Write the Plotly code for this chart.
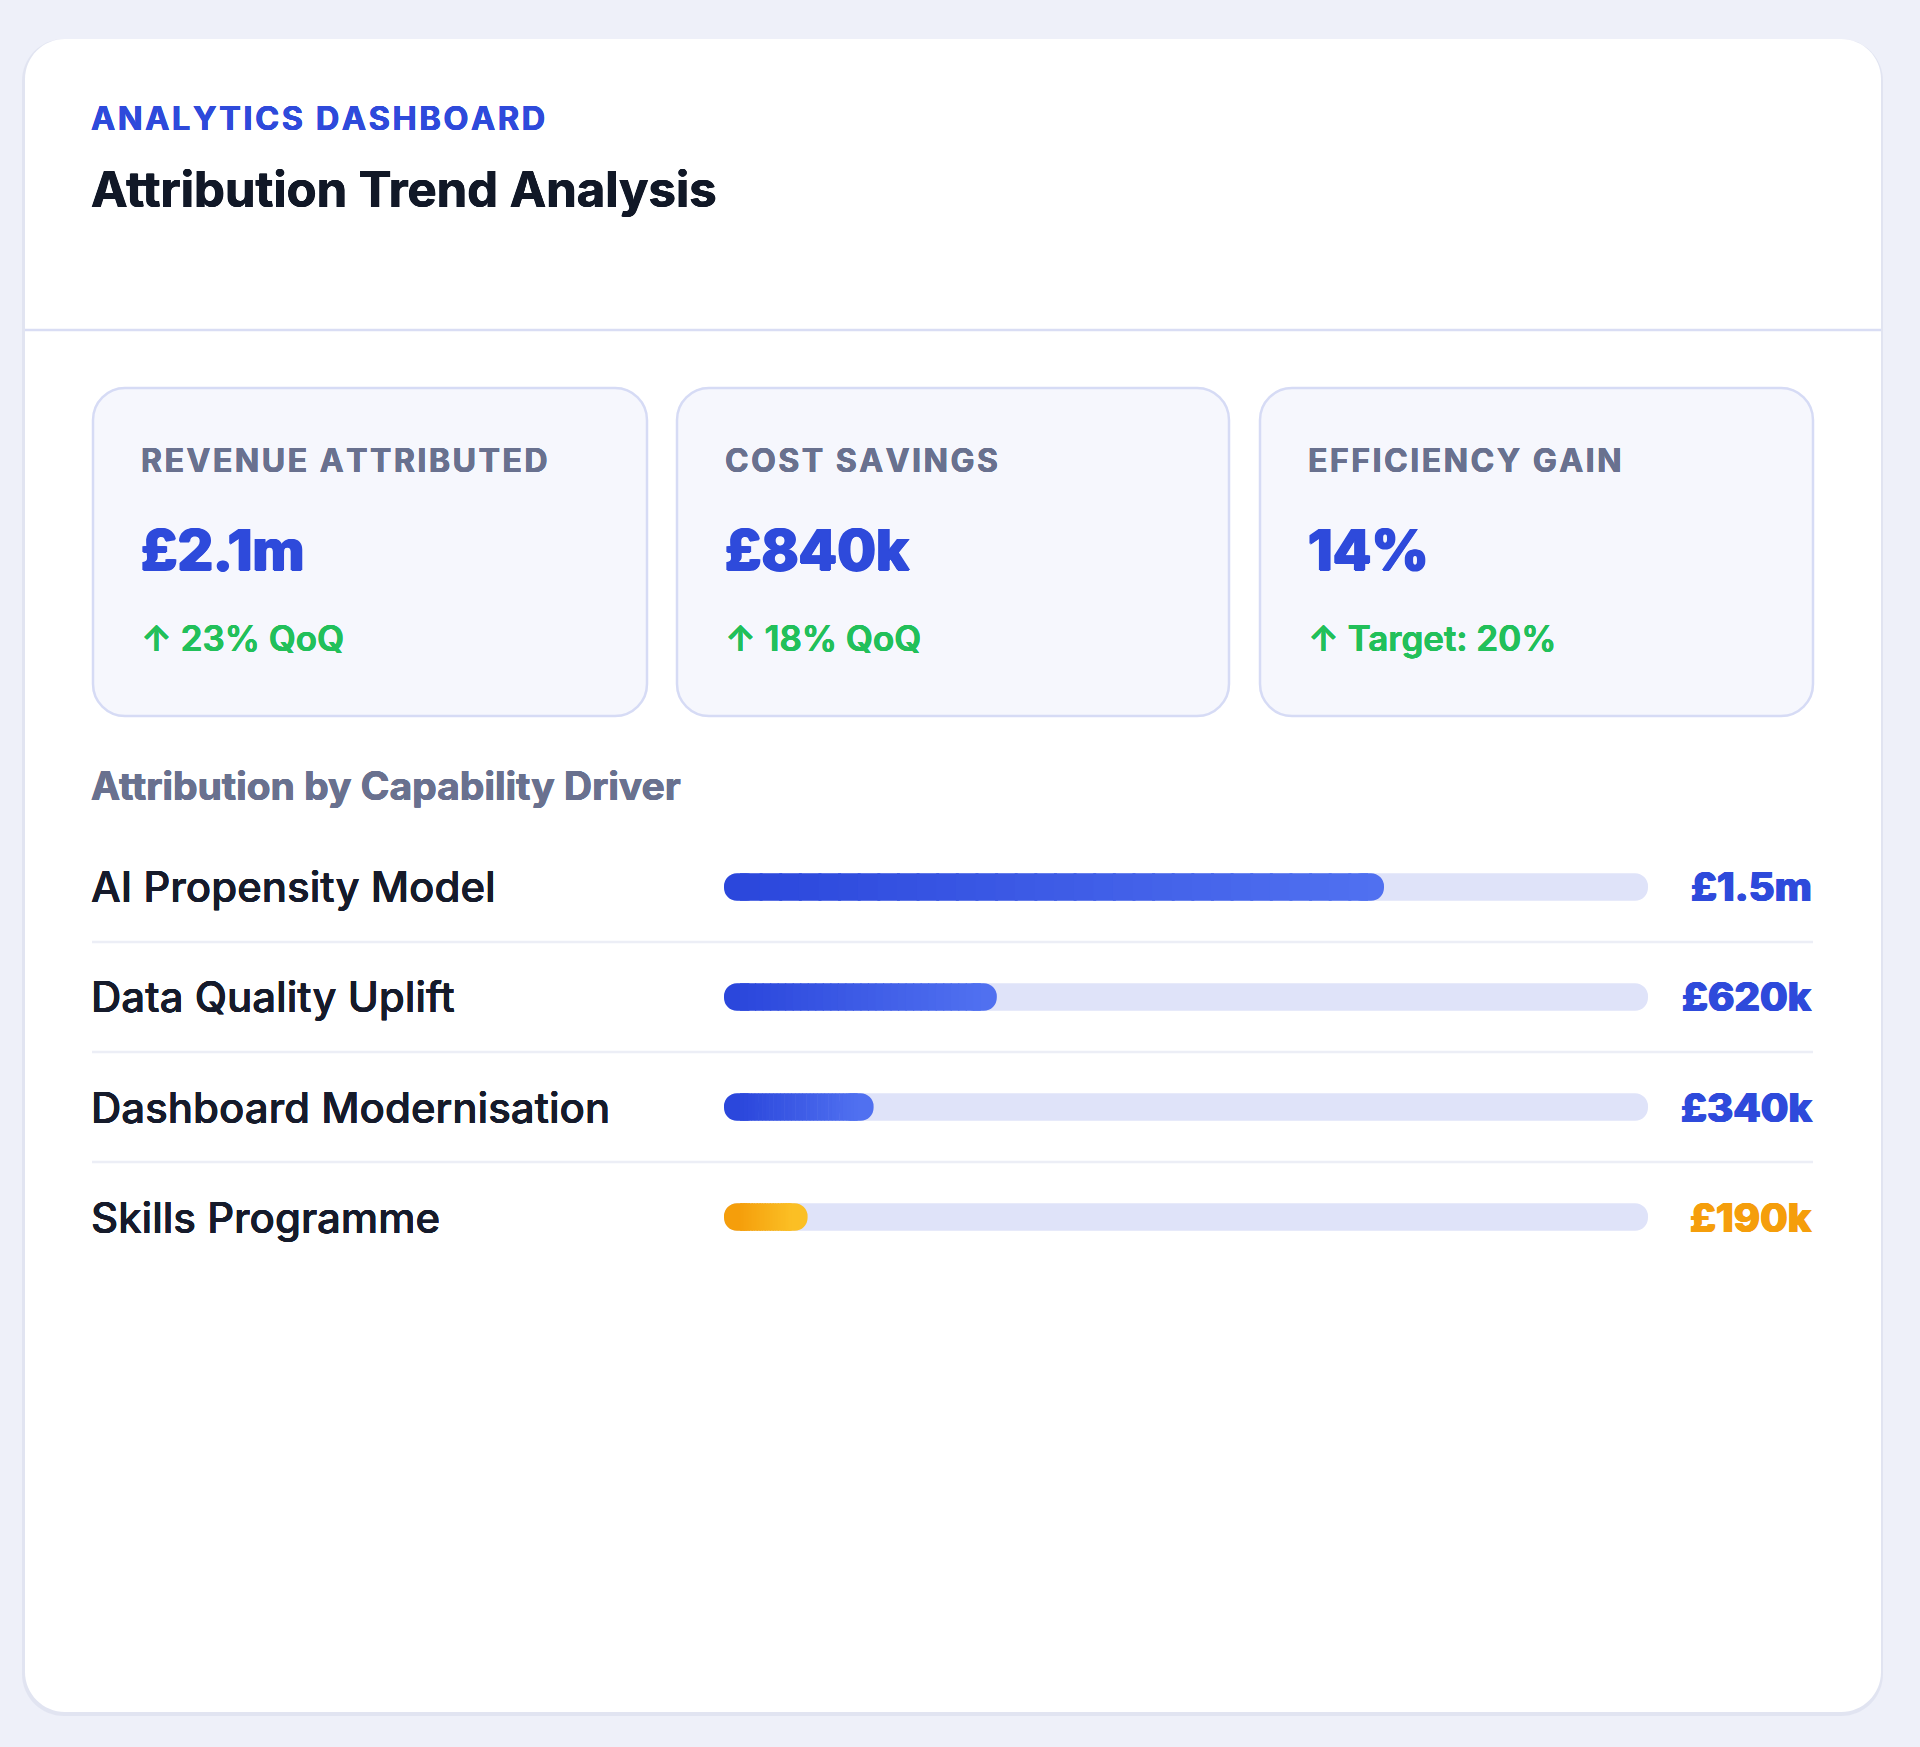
import plotly.graph_objects as go

# ---------------- data ----------------
eyebrow = "ANALYTICS DASHBOARD"
title = "Attribution Trend Analysis"
kpi_labels = ["REVENUE ATTRIBUTED", "COST SAVINGS", "EFFICIENCY GAIN"]
kpi_values = ["£2.1m", "£840k", "14%"]
kpi_deltas = ["↑ 23% QoQ", "↑ 18% QoQ", "↑ Target: 20%"]
section_title = "Attribution by Capability Driver"
drivers = ["AI Propensity Model", "Data Quality Uplift", "Dashboard Modernisation", "Skills Programme"]
driver_values_k = [1500, 620, 340, 190]          # £k
driver_value_labels = ["£1.5m", "£620k", "£340k", "£190k"]
total_revenue_k = 2100                            # £k, scale max of each track
driver_is_highlight = [False, False, False, True]

# ---------------- geometry helpers (pixels -> paper) ----------------
W, H = 1920, 1747
FONT = "Inter, 'Open Sans', sans-serif"


def px(x):
    return x / W


def py(y):
    return 1 - y / H


def rrect_path(x0, y0, x1, y1, r):
    k = 0.5523 * r
    pts = []
    pts.append(f"M {px(x0 + r)},{py(y0)}")
    pts.append(f"L {px(x1 - r)},{py(y0)}")
    pts.append(f"C {px(x1 - r + k)},{py(y0)} {px(x1)},{py(y0 + r - k)} {px(x1)},{py(y0 + r)}")
    pts.append(f"L {px(x1)},{py(y1 - r)}")
    pts.append(f"C {px(x1)},{py(y1 - r + k)} {px(x1 - r + k)},{py(y1)} {px(x1 - r)},{py(y1)}")
    pts.append(f"L {px(x0 + r)},{py(y1)}")
    pts.append(f"C {px(x0 + r - k)},{py(y1)} {px(x0)},{py(y1 - r + k)} {px(x0)},{py(y1 - r)}")
    pts.append(f"L {px(x0)},{py(y0 + r)}")
    pts.append(f"C {px(x0)},{py(y0 + r - k)} {px(x0 + r - k)},{py(y0)} {px(x0 + r)},{py(y0)}")
    pts.append("Z")
    return " ".join(pts)


def track(s):
    return "\u200a".join(s)


def lerp_color(c0, c1, t):
    a = [int(c0[i:i + 2], 16) for i in (1, 3, 5)]
    b = [int(c1[i:i + 2], 16) for i in (1, 3, 5)]
    return "#" + "".join(f"{round(a[i] + (b[i] - a[i]) * t):02x}" for i in range(3))


def heavy(color, d=0.7):
    return f"{d}px 0 0 {color}, -{d}px 0 0 {color}, 0 {d * 0.5}px 0 {color}"


BLUE = "#2e4adb"
ORANGE = "#f59e0b"
GRAD_BLUE = ("#2b47dc", "#5070f0")
GRAD_ORANGE = ("#f59e0b", "#fbbf24")
TRACK = "#dfe3f9"
GRAY = "#69718f"
DARK = "#111827"
GREEN = "#22c05a"
LABEL = "#161b2b"

AX_X0, AX_X1 = 724, 1648
RADIUS = 14
BAR_W = 0.25

fig = go.Figure()

# ---------------- track bars (floating bars -> both ends rounded) ----------------
fig.add_trace(go.Bar(
    y=drivers, x=[total_revenue_k] * len(drivers), base=[0] * len(drivers), orientation="h",
    marker=dict(color=TRACK, cornerradius=RADIUS, line=dict(width=0)),
    width=BAR_W, hoverinfo="skip", showlegend=False,
))

# ---------------- value bars with horizontal gradient ----------------
cap_k = 16 / (AX_X1 - AX_X0) * total_revenue_k     # end-cap length in data units
N_SEG = 32
cap_y, cap_x, cap_b, cap_c = [], [], [], []
md_y, md_x, md_b, md_c = [], [], [], []
for d, v, hl in zip(drivers, driver_values_k, driver_is_highlight):
    c0, c1 = GRAD_ORANGE if hl else GRAD_BLUE
    cap_y += [d, d]
    cap_b += [0, v - 2.2 * cap_k]
    cap_x += [2.2 * cap_k, 2.2 * cap_k]
    cap_c += [c0, c1]
    seg = (v - 2 * cap_k) / N_SEG
    for j in range(N_SEG):
        md_y.append(d)
        md_b.append(cap_k + j * seg)
        md_x.append(seg * 1.15 if j < N_SEG - 1 else seg)
        md_c.append(lerp_color(c0, c1, (j + 0.5) / N_SEG))

fig.add_trace(go.Bar(
    y=cap_y, x=cap_x, base=cap_b, orientation="h",
    marker=dict(color=cap_c, cornerradius=RADIUS, line=dict(width=0)),
    width=BAR_W, hoverinfo="skip", showlegend=False,
))
fig.add_trace(go.Bar(
    y=md_y, x=md_x, base=md_b, orientation="h",
    marker=dict(color=md_c, cornerradius=0, line=dict(width=0)),
    width=BAR_W, hoverinfo="skip", showlegend=False,
))

row_top, row_bot = 832, 1272
fig.update_layout(
    width=W, height=H, margin=dict(l=0, r=0, t=0, b=0),
    paper_bgcolor="#eef0f9", plot_bgcolor="rgba(0,0,0,0)",
    barmode="overlay", font=dict(family=FONT),
    xaxis=dict(domain=[px(AX_X0), px(AX_X1)], range=[0, total_revenue_k], visible=False, fixedrange=True),
    yaxis=dict(domain=[py(row_bot), py(row_top)], type="category",
               range=[len(drivers) - 0.5, -0.5], visible=False, fixedrange=True),
)

shapes = []
# card shadow + card
shapes.append(dict(type="path", xref="paper", yref="paper", layer="below",
                   path=rrect_path(22, 39, 1883, 1716, 42),
                   fillcolor="rgba(120,130,180,0.10)", line=dict(width=0)))
shapes.append(dict(type="path", xref="paper", yref="paper", layer="below",
                   path=rrect_path(25, 39, 1881, 1712, 40),
                   fillcolor="#ffffff", line=dict(width=0)))
# header divider
shapes.append(dict(type="line", xref="paper", yref="paper", layer="below",
                   x0=px(25), x1=px(1881), y0=py(330), y1=py(330),
                   line=dict(color="#d9ddf4", width=2.5)))
# KPI boxes
box_x = [(93, 647), (677, 1229), (1260, 1813)]
for (x0, x1) in box_x:
    shapes.append(dict(type="path", xref="paper", yref="paper", layer="below",
                       path=rrect_path(x0, 388, x1, 716, 32),
                       fillcolor="#f6f7fd", line=dict(color="#d6dbf5", width=2.5)))
# row separators
for i in range(len(drivers) - 1):
    shapes.append(dict(type="line", xref="paper", yref="y", layer="below",
                       x0=px(92), x1=px(1813), y0=i + 0.5, y1=i + 0.5,
                       line=dict(color="#eceef6", width=2.5)))
fig.update_layout(shapes=shapes)

ann = []


def txt(x, y, s, size, color, weight=400, xanchor="left", yref="paper", shadow=None):
    f = dict(family=FONT, size=size, color=color, weight=weight)
    if shadow:
        f["shadow"] = shadow
    ann.append(dict(x=px(x), y=(py(y) if yref == "paper" else y), xref="paper", yref=yref,
                    text=s, showarrow=False, xanchor=xanchor, yanchor="middle", font=f))


TX = 89
txt(TX, 118, track(eyebrow), 32.5, BLUE, 700, shadow=heavy(BLUE, 0.35))
txt(TX, 190, title, 49, DARK, 700, shadow=heavy(DARK, 0.45))

for i, (x0, x1) in enumerate(box_x):
    lx = x0 + 46
    txt(lx, 460, track(kpi_labels[i]), 32, GRAY, 700, shadow=heavy(GRAY, 0.35))
    txt(lx, 550, kpi_values[i], 56, BLUE, 800, shadow=heavy(BLUE, 1.0))
    txt(lx, 638, kpi_deltas[i], 35, GREEN, 600, shadow=heavy(GREEN, 0.3))

txt(TX, 785, section_title, 39, GRAY, 700, shadow=heavy(GRAY, 0.4))

for i, d in enumerate(drivers):
    txt(TX, d, d, 42, LABEL, 500, yref="y", shadow=heavy(LABEL, 0.2))
    col = ORANGE if driver_is_highlight[i] else BLUE
    txt(1814, d, driver_value_labels[i], 40, col, 800, xanchor="right", yref="y",
        shadow=heavy(col, 0.7))

fig.update_layout(annotations=ann)
fig.write_html(
    "out.html",
    config={"displayModeBar": False},
    post_script="document.body.style.margin='0';document.body.style.background='#eef0f9';",
)
